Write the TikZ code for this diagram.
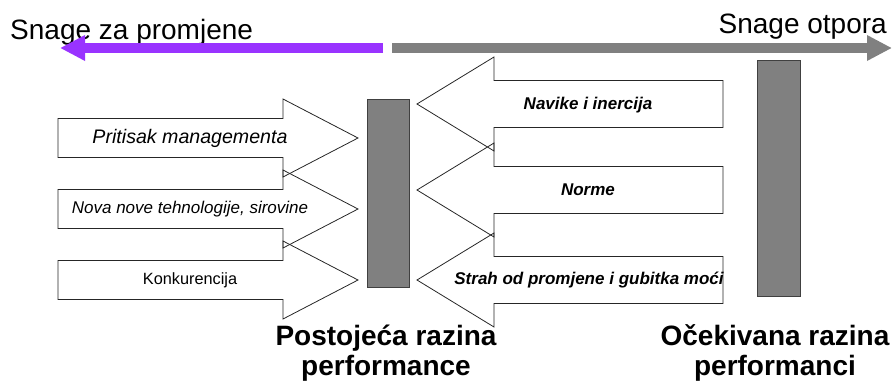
\documentclass[tikz,border=0pt]{standalone}
\usepackage{fontspec}
\setmainfont{Liberation Sans}
\usepackage{xcolor}
\usepackage{tikz}
\usetikzlibrary{arrows.meta}

\definecolor{forceviolet}{RGB}{153,51,255}
\definecolor{forcegray}{RGB}{128,128,128}

\begin{document}
\begin{tikzpicture}[x=1pt,y=-1pt,>=Latex,
  forcearrow/.style={draw=black!85,line width=0.8pt},
  levelbar/.style={draw=black!75,fill=forcegray,line width=0.9pt,inner sep=0pt},
  bigline/.style={line width=9.5pt,-{Triangle[length=25pt,width=24pt]}},
  headtxt/.style={inner sep=0pt,font=\fontsize{28}{32}\selectfont},
  leveltxt/.style={inner sep=0pt,align=center,font=\fontsize{28}{30}\selectfont\bfseries},
  pushtxt/.style={inner sep=0pt,font=\fontsize{17}{20}\selectfont\itshape},
  holdtxt/.style={inner sep=0pt,font=\fontsize{17}{20}\selectfont\bfseries\itshape}]
  \useasboundingbox (0,0) rectangle (893,383);
  % headings and the two big arrows
  \node[headtxt,anchor=base west] (change) at (10,39) {Snage za promjene};
  \node[headtxt,anchor=base east] (resist) at (887,33) {Snage otpora};
  \coordinate (midl) at (383,48);
  \coordinate (midr) at (392,48);
  \coordinate (endl) at (60,48);
  \coordinate (endr) at (892,48);
  \draw[bigline,forceviolet] (midl) -- (endl);
  \draw[bigline,forcegray] (midr) -- (endr);
  % performance levels
  \node[levelbar,minimum width=42pt,minimum height=188pt] (now) at (388,193) {};
  \node[levelbar,minimum width=43pt,minimum height=236pt] (goal) at (778.5,178) {};
  \node[leveltxt,anchor=base] (nowtxt) at (386,375) {Postojeća razina\\performance};
  \node[leveltxt,anchor=base] (goaltxt) at (775,375) {Očekivana razina\\performanci};
  % forces pushing to the right
  \foreach \c in {138,209,280}
    \draw[forcearrow] (58,\c-19.5) -- (283,\c-19.5) -- (283,\c-39) -- (358,\c)
      -- (283,\c+39) -- (283,\c+19.5) -- (58,\c+19.5) -- cycle;
  \node[inner sep=0pt,font=\fontsize{19.6}{22}\selectfont\itshape] (pressure) at (190,138) {Pritisak managementa};
  \node[pushtxt] (technology) at (190,209) {Nova nove tehnologije, sirovine};
  \node[pushtxt,font=\fontsize{16.3}{19}\selectfont] (competition) at (190,280) {Konkurencija};
  % forces holding back to the left
  \foreach \c in {104,190,280}
    \draw[forcearrow] (723,\c-23.5) -- (494,\c-23.5) -- (494,\c-47) -- (417,\c)
      -- (494,\c+47) -- (494,\c+23.5) -- (723,\c+23.5) -- cycle;
  \node[holdtxt] (habits) at (588,105) {Navike i inercija};
  \node[holdtxt] (norms) at (588,190) {Norme};
  \node[holdtxt] (fear) at (589,280) {Strah od promjene i gubitka moći};
\end{tikzpicture}
\end{document}
